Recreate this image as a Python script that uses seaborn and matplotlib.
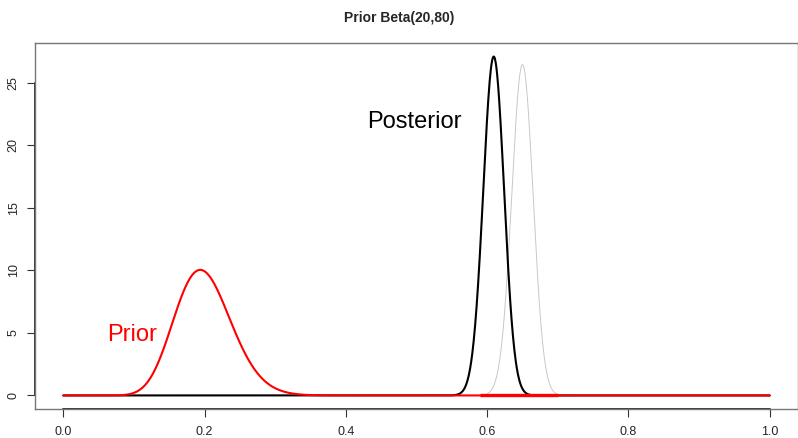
import math
import numpy as np
import pandas as pd
import seaborn as sns
import matplotlib
matplotlib.use("Agg")
import matplotlib.pyplot as plt
from matplotlib.lines import Line2D

# Distribution parameters (Beta(a, b))
curve_names = ["Likelihood", "Posterior", "Prior"]
curve_alpha = [651, 670, 20]
curve_beta = [351, 430, 80]
curve_colors = ["#c8c8c8", "black", "red"]
curve_widths = [0.7, 1.5, 1.5]
x_ticks = [0.0, 0.2, 0.4, 0.6, 0.8, 1.0]
y_ticks = [0, 5, 10, 15, 20, 25]
red_band = [0.59, 0.70]  # thick red segment along zero

sns.set_theme(style="white")
plt.rcParams["font.family"] = ["Liberation Sans", "DejaVu Sans"]

grid = np.linspace(0.0, 1.0, 2001)

def beta_pdf(x, a, b):
    x = np.clip(x, 1e-12, 1 - 1e-12)
    logc = math.lgamma(a + b) - math.lgamma(a) - math.lgamma(b)
    return np.exp(logc + (a - 1) * np.log(x) + (b - 1) * np.log(1 - x))

frames = []
for n, a, b in zip(curve_names, curve_alpha, curve_beta):
    frames.append(pd.DataFrame({"x": grid, "density": beta_pdf(grid, a, b), "curve": n}))
df = pd.concat(frames, ignore_index=True)

fig = plt.figure(figsize=(7.98, 4.38), dpi=100)
ax = fig.add_axes([0.0439, 0.0662, 0.9561, 0.8356])

for n, c, w in zip(curve_names, curve_colors, curve_widths):
    sns.lineplot(data=df[df["curve"] == n], x="x", y="density", color=c,
                 linewidth=w, ax=ax, legend=False, estimator=None)

ax.plot(red_band, [0, 0], color="red", linewidth=2.4, solid_capstyle="butt")

ymax = df["density"].max()
ax.set_xlim(-0.04, 1.04)
ax.set_ylim(-0.04 * ymax, ymax * 1.04)
ax.set_xticks(x_ticks)
ax.set_xticklabels([f"{t:.1f}" for t in x_ticks])
ax.set_yticks(y_ticks)
ax.set_yticklabels([str(t) for t in y_ticks], rotation=90, va="center")
ax.set_xlabel("")
ax.set_ylabel("")
ax.tick_params(axis="both", which="both", direction="out", length=6, width=0.8,
               color="#333333", labelsize=9, bottom=True, left=True, pad=6)
ax.tick_params(axis="y", pad=5)

for s in ax.spines.values():
    s.set_color("#777777")
    s.set_linewidth(1.0)

# R-style axis lines spanning first to last tick
bx = matplotlib.transforms.blended_transform_factory(ax.transData, ax.transAxes)
by = matplotlib.transforms.blended_transform_factory(ax.transAxes, ax.transData)
ax.add_line(Line2D([x_ticks[0], x_ticks[-1]], [0, 0], transform=bx, color="#333333",
                   linewidth=1.4, clip_on=False))
ax.add_line(Line2D([0, 0], [y_ticks[0], y_ticks[-1]], transform=by, color="#333333",
                   linewidth=1.4, clip_on=False))

ax.text(0.062, 4.8, "Prior", color="red", fontsize=17, ha="left", va="center")
ax.text(0.43, 21.9, "Posterior", color="black", fontsize=17, ha="left", va="center")

fig.suptitle("Prior Beta(20,80)", fontsize=10, fontweight="bold", y=0.975)

fig.savefig("out.png", dpi=100)
